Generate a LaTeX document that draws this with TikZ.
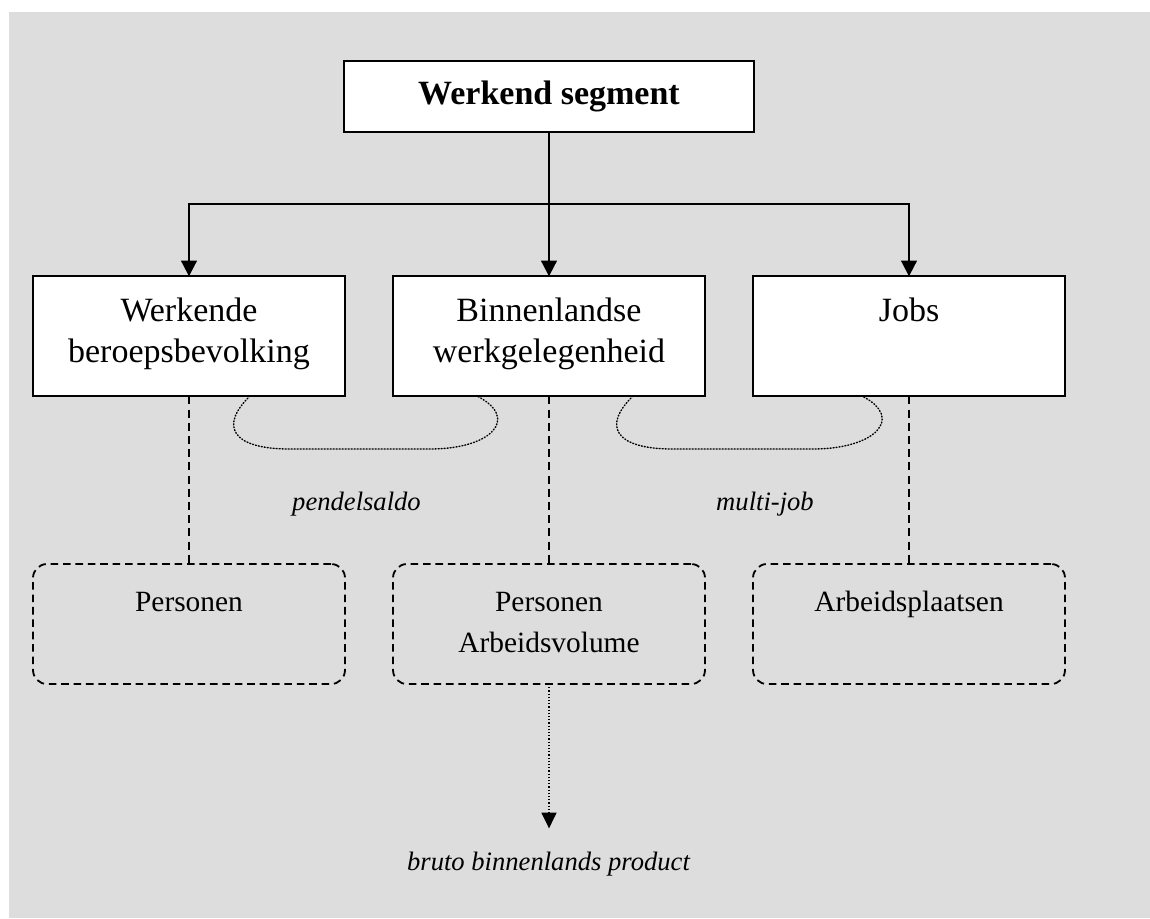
\documentclass[tikz,border=0pt]{standalone}
\usepackage{fontspec}
\setmainfont{Liberation Serif}
\usetikzlibrary{arrows.meta}
\definecolor{bgc}{RGB}{221,221,221}
\tikzset{
  topbox/.style={draw=black, fill=white, line width=1pt, inner sep=0pt, outer sep=0pt,
    minimum width=205pt, minimum height=35.5pt, align=center,
    font=\fontsize{17}{20}\selectfont\bfseries},
  midbox/.style={draw=black, fill=white, line width=1pt, inner sep=0pt, outer sep=0pt,
    minimum width=156pt, minimum height=60pt, align=center,
    font=\fontsize{17}{20.8}\selectfont},
  lowbox/.style={draw=black, line width=0.9pt, dash pattern=on 3.8pt off 2.4pt,
    rounded corners=7pt, inner sep=0pt, outer sep=0pt,
    minimum width=156pt, minimum height=60pt, align=center,
    font=\fontsize{14.7}{20.35}\selectfont},
  lbl/.style={anchor=base, inner sep=0pt, font=\fontsize{13.3}{16}\selectfont\itshape},
  conn/.style={line width=1pt, -{Triangle[length=7.8pt,width=7.8pt]}},
  dashline/.style={line width=0.9pt, dash pattern=on 4pt off 2.6pt},
  dotline/.style={line width=0.7pt, dash pattern=on 0.5pt off 1pt, line cap=round},
  dotarrow/.style={line width=0.8pt, dash pattern=on 0.6pt off 1pt,
    -{Triangle[length=7.8pt,width=7.5pt]}},
}
\begin{document}
\begin{tikzpicture}[x=0.5pt,y=-0.5pt]
\useasboundingbox (0,0) rectangle (1150,918);
\fill[bgc] (9,12) rectangle (1150,918);

% nodes
\node[topbox] (top) at (549,96.5) {Werkend segment};
\node[midbox] (mid1) at (189,336.3) {Werkende\\beroepsbevolking\strut};
\node[midbox] (mid2) at (549,336.3) {Binnenlandse\\werkgelegenheid\strut};
\node[midbox] (mid3) at (909,336.3) {Jobs\\\strut};

\node[lowbox] (bot1) at (189,624) {\strut Personen\\\strut};
\node[lowbox] (bot2) at (549,624) {\strut Personen\\Arbeidsvolume\strut};
\node[lowbox] (bot3) at (909,624) {\strut Arbeidsplaatsen\\\strut};

\node[lbl] (pendel) at (356.5,510) {pendelsaldo};
\node[lbl] (multi) at (765,510) {multi-job};
\node[lbl] (bbp) at (548.5,870.7) {bruto binnenlands product};

% tree connectors
\coordinate (split) at (549,204);
\draw[conn] (top.south) -- (mid2.north);
\draw[conn] (split) -| (mid1.north);
\draw[conn] (split) -| (mid3.north);

% dashed links
\draw[dashline] (mid1.south) -- (bot1.north);
\draw[dashline] (mid2.south) -- (bot2.north);
\draw[dashline] (mid3.south) -- (bot3.north);

% dotted loops
\coordinate (p1a) at (250,396);
\coordinate (p1b) at (477,396);
\coordinate (p2a) at (633,396);
\coordinate (p2b) at (862,396);
\draw[dotline] (p1a) .. controls (220,425) and (230,449) .. (290,449)
  -- (430,449) .. controls (492,449) and (520,418) .. (p1b);
\draw[dotline] (p2a) .. controls (603,425) and (613,449) .. (673,449)
  -- (813,449) .. controls (875,449) and (905,418) .. (p2b);

% dotted arrow to gdp
\coordinate (tip) at (549,828.3);
\draw[dotarrow] (bot2.south) -- (tip);
\end{tikzpicture}
\end{document}
